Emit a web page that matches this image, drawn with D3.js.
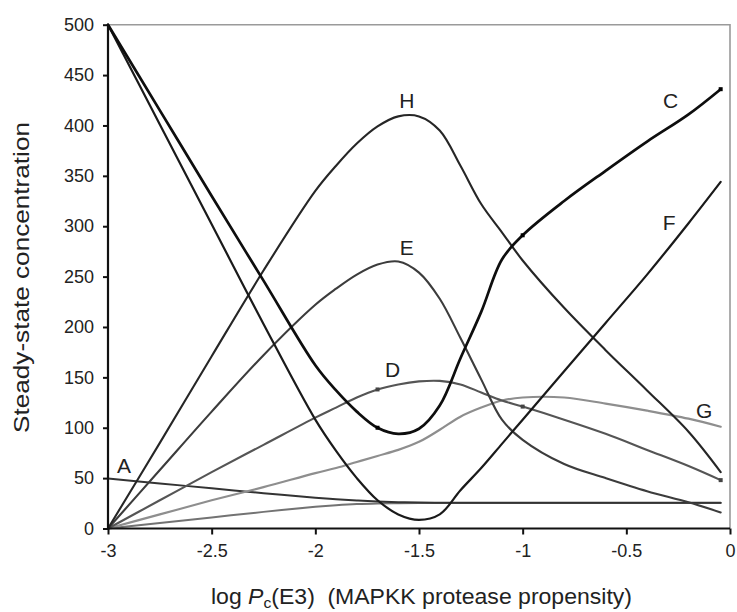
<!DOCTYPE html>
<html>
<head>
<meta charset="utf-8">
<script src="https://cdn.jsdelivr.net/npm/d3@7"></script>
<style>
  html, body { margin: 0; padding: 0; background: #fff; }
  svg { display: block; font-family: "Liberation Sans", Arial, Helvetica, sans-serif; }
</style>
</head>
<body>
<svg id="chart" width="737" height="612"></svg>
<script>
// log Pc(E3) sample points shared by all species curves
const logPc = [-3, -2.75, -2.5, -2.25, -2, -1.9, -1.8, -1.7, -1.6, -1.5, -1.4, -1.3, -1.2, -1.1, -1, -0.8, -0.6, -0.4, -0.2, -0.045];

// steady-state concentrations of each species
const seriesA = [49.6, 44.7, 39.9, 35, 30.5, 29, 27.8, 26.8, 26.1, 25.7, 25.6, 25.6, 25.6, 25.6, 25.6, 25.6, 25.6, 25.6, 25.6, 25.6];
const seriesB = [0, 5.5, 11, 16.5, 21.5, 23.1, 24.3, 24.9, 25.1, 25.2, 25.2, 25.2, 25.2, 25.2, 25.2, 25.2, 25.2, 25.2, 25.2, 25.2];
const seriesC = [500, 415, 330, 246, 162, 137, 116, 100, 94, 99, 122, 169, 215, 267, 291, 325, 355, 384, 411, 436];
const seriesD = [0, 28, 56, 83, 110, 120, 130, 138, 143, 146, 146.5, 143, 135, 127, 121, 108, 94, 78, 62, 48];
const seriesE = [0, 58, 116, 172, 222, 238, 252, 262, 265, 254, 228, 189, 148, 108, 88, 64, 50, 37, 26, 16];
const seriesF = [500, 401, 302, 203, 108, 77, 50, 28, 14, 8.5, 14, 38, 60, 84, 108, 156, 204, 252, 303, 344];
const seriesG = [0, 14, 28, 41, 55, 60, 66, 72, 78, 86, 98, 111, 120, 127, 130, 130, 124, 117, 109, 101];
const seriesH = [0, 85, 171, 256, 335, 360, 382, 399, 409, 409, 395, 360, 322, 294, 266, 219, 177, 137, 96, 56];

// curve name labels, anchored in data space (x, y)
const labelNames = ["H", "C", "F", "E", "D", "G", "A"];
const labelX = [-1.559, -0.286, -0.294, -1.559, -1.628, -0.125, -2.923];
const labelY = [417.4, 417, 296, 271.5, 150.8, 109.5, 55];

// small data markers along C and D
const markerXs = [-1.7, -1, -0.045];

const xTicks = [-3, -2.5, -2, -1.5, -1, -0.5, 0];
const yTicks = [0, 50, 100, 150, 200, 250, 300, 350, 400, 450, 500];

const svg = d3.select("#chart");
const plotLeft = 108, plotRight = 730, plotTop = 24.7, plotBottom = 528.5;

const x = d3.scaleLinear().domain([-3, 0]).range([plotLeft, plotRight]);
const y = d3.scaleLinear().domain([0, 500]).range([plotBottom, plotTop]);

// plot frame: light grey top and right edges
svg.append("path")
  .attr("d", `M${plotLeft},${plotTop}H${plotRight}V${plotBottom}`)
  .attr("fill", "none").attr("stroke", "#9a9a9a").attr("stroke-width", 1.6);

const series = [
  { v: seriesB, color: "#737373", w: 2.0 },
  { v: seriesA, color: "#333333", w: 2.0 },
  { v: seriesG, color: "#8e8e8e", w: 2.2 },
  { v: seriesD, color: "#555555", w: 2.1 },
  { v: seriesE, color: "#3c3c3c", w: 2.1 },
  { v: seriesH, color: "#262626", w: 2.1 },
  { v: seriesF, color: "#1a1a1a", w: 2.2 },
  { v: seriesC, color: "#0e0e0e", w: 2.7 }
];

const line = d3.line()
  .x((d, i) => x(logPc[i]))
  .y(d => y(d))
  .curve(d3.curveCatmullRom.alpha(0.5));

svg.append("g").selectAll("path")
  .data(series)
  .join("path")
  .attr("d", s => line(s.v))
  .attr("fill", "none")
  .attr("stroke", s => s.color)
  .attr("stroke-width", s => s.w)
  .attr("stroke-linejoin", "round")
  .attr("stroke-linecap", "round");

// markers on C and D
[[seriesC, "#000"], [seriesD, "#444"]].forEach(([vals, col]) => {
  svg.append("g").selectAll("rect")
    .data(markerXs)
    .join("rect")
    .attr("x", d => x(d) - 2)
    .attr("y", d => y(vals[logPc.indexOf(d)]) - 2)
    .attr("width", 4).attr("height", 4)
    .attr("fill", col);
});

// axes
const yAxis = d3.axisLeft(y).tickValues(yTicks).tickSize(5).tickPadding(9).tickFormat(d => String(d));
const gy = svg.append("g").attr("transform", `translate(${plotLeft},0)`).call(yAxis);
gy.select(".domain").attr("stroke", "#111").attr("stroke-width", 2.2).attr("d", `M0,${plotTop}V${plotBottom + 1}`);
gy.selectAll(".tick line").attr("stroke", "#111").attr("stroke-width", 2);
gy.selectAll(".tick text").attr("font-size", 18).attr("fill", "#222")
  .attr("font-family", "'Liberation Sans', Arial, sans-serif");

const xAxis = d3.axisBottom(x).tickValues(xTicks).tickSize(6).tickPadding(10).tickFormat(d => String(d));
const gx = svg.append("g").attr("transform", `translate(0,${plotBottom})`).call(xAxis);
gx.select(".domain").attr("stroke", "#111").attr("stroke-width", 2.2).attr("d", `M${plotLeft - 1},0H${plotRight}`);
gx.selectAll(".tick line").attr("stroke", "#111").attr("stroke-width", 2);
gx.selectAll(".tick text").attr("font-size", 18).attr("fill", "#222")
  .attr("font-family", "'Liberation Sans', Arial, sans-serif");

// curve labels
svg.append("g").selectAll("text")
  .data(labelNames)
  .join("text")
  .attr("x", (d, i) => x(labelX[i]))
  .attr("y", (d, i) => y(labelY[i]))
  .attr("text-anchor", "middle")
  .attr("font-size", 21)
  .attr("fill", "#222")
  .text(d => d);

// y-axis title
svg.append("text")
  .attr("transform", `translate(29,${(122 + 433) / 2}) rotate(-90)`)
  .attr("text-anchor", "middle")
  .attr("font-size", 22)
  .attr("fill", "#222")
  .attr("textLength", 311)
  .attr("lengthAdjust", "spacingAndGlyphs")
  .text("Steady-state concentration");

// x-axis title with italic P and subscript c
const xt = svg.append("text")
  .attr("x", 211).attr("y", 604)
  .attr("font-size", 22)
  .attr("fill", "#222")
  .attr("textLength", 421)
  .attr("lengthAdjust", "spacingAndGlyphs");
xt.append("tspan").text("log ");
xt.append("tspan").attr("font-style", "italic").text("P");
xt.append("tspan").attr("font-size", 15).attr("dy", 4).text("c");
xt.append("tspan").attr("dy", -4).text("(E3)");
xt.append("tspan").attr("dx", 12).text("(MAPKK protease propensity)");
</script>
</body>
</html>
